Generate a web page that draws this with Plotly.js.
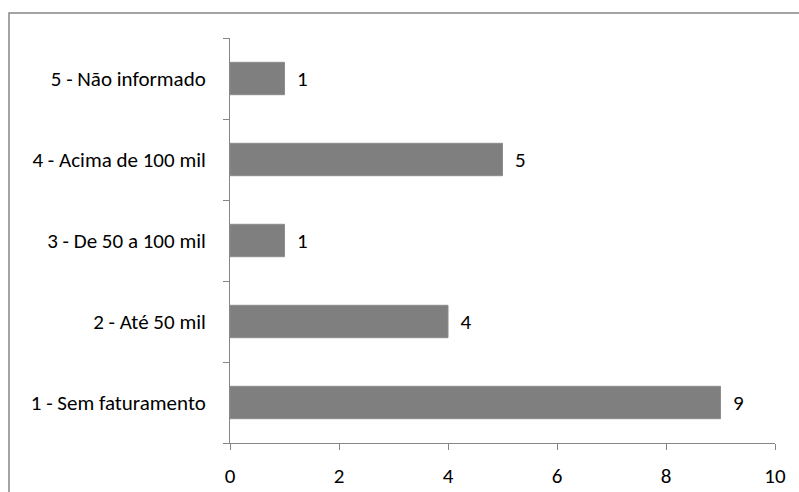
<!DOCTYPE html>
<html>
<head>
<meta charset="utf-8">
<script src="https://cdn.plot.ly/plotly-3.0.1.min.js"></script>
<style>html,body{margin:0;padding:0;background:#fff;}#chart{width:799px;height:492px;}</style>
</head>
<body>
<div id="chart"></div>
<script>
const categories = ["1 - Sem faturamento", "2 - Até 50 mil", "3 - De 50 a 100 mil", "4 - Acima de 100 mil", "5 - Não informado"];
const values = [9, 4, 1, 5, 1];
const xTicks = [0, 2, 4, 6, 8, 10];

const FONT = "Carlito, Calibri, 'Open Sans', 'Noto Sans', sans-serif";
const axisColor = "#868686";
const FS = 21;

const trace = {
  type: "bar",
  orientation: "h",
  x: values,
  y: categories,
  marker: {color: "#7f7f7f", line: {color: "#8c8c8c", width: 1}},
  text: values.map(v => "\u00a0\u00a0" + v),
  textposition: "outside",
  textfont: {family: FONT, size: FS, color: "#000"},
  cliponaxis: false,
  hoverinfo: "none"
};

const layout = {
  width: 799, height: 492,
  margin: {l: 230, r: 24, t: 38, b: 49},
  paper_bgcolor: "#fff", plot_bgcolor: "#fff",
  showlegend: false,
  bargap: 0.6,
  font: {family: FONT, size: FS, color: "#000"},
  xaxis: {
    range: [0, 10],
    tickvals: xTicks,
    ticktext: xTicks.map(String),
    showgrid: false, zeroline: false,
    showline: true, linecolor: axisColor, linewidth: 1,
    ticks: "outside", ticklen: 6, tickcolor: axisColor,
    ticklabelstandoff: 8,
    tickfont: {family: FONT, size: FS, color: "#000"},
    fixedrange: true
  },
  yaxis: {
    type: "category",
    categoryorder: "array",
    categoryarray: categories,
    showgrid: false, zeroline: false,
    showline: true, linecolor: axisColor, linewidth: 1,
    ticks: "outside", ticklen: 6, tickcolor: axisColor,
    tickson: "boundaries",
    ticklabelstandoff: 19,
    tickfont: {family: FONT, size: FS, color: "#000"},
    fixedrange: true
  },
  shapes: [{
    type: "rect", xref: "paper", yref: "paper",
    x0: -0.4055, x1: 1.06, y0: -0.2, y1: 1.0617,
    line: {color: "#868686", width: 1.5}, fillcolor: "rgba(0,0,0,0)", layer: "below"
  }]
};

Plotly.newPlot("chart", [trace], layout, {displayModeBar: false, staticPlot: true});
</script>
</body>
</html>
